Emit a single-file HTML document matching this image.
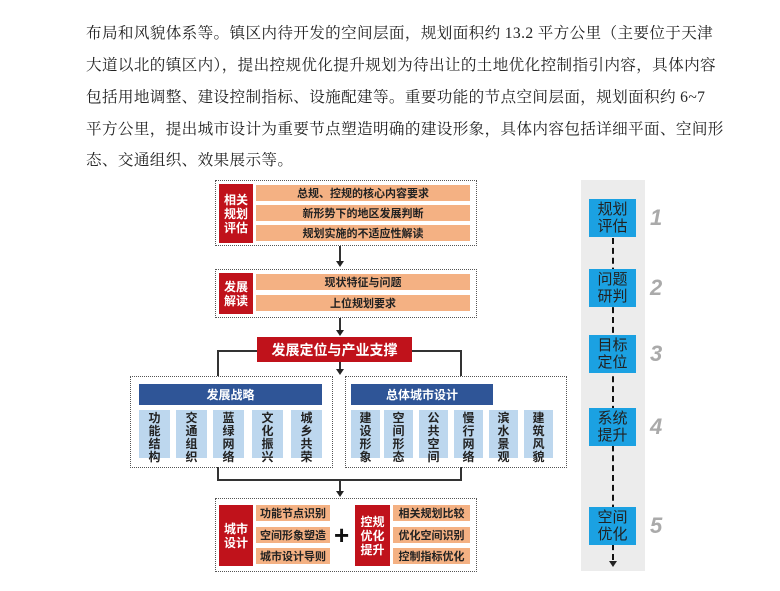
<!DOCTYPE html>
<html><head><meta charset="utf-8"><style>
body{margin:0;width:780px;height:591px;background:#fff;position:relative;overflow:hidden;font-family:"Liberation Sans","Noto Sans CJK SC",sans-serif}
.a{position:absolute;box-sizing:border-box}
.p{position:absolute;left:86px;font-family:"Liberation Serif","Noto Serif CJK SC",serif;font-size:15.6px;color:#222;white-space:nowrap;letter-spacing:0.35px}
.dot{border:1.5px dotted #555}
.red{background:#c0121b;color:#fff;font-weight:bold;display:flex;align-items:center;justify-content:center;text-align:center;line-height:14px;font-size:12px}
.or{background:#f4b183;color:#222;font-weight:bold;font-size:11px;display:flex;align-items:center;justify-content:center}
.bh{background:#2f5597;color:#fff;font-weight:bold;font-size:12px;display:flex;align-items:center;justify-content:center}
.lb{background:#bdd7ee;color:#222;font-weight:bold;font-size:12px;line-height:13px;text-align:center;padding-top:2px;width:31px;height:48px;top:410px}
.ln{background:#333}
.ah{width:0;height:0;border-left:4px solid transparent;border-right:4px solid transparent;border-top:6px solid #222}
.sb{background:#1ba1e2;color:#222;font-size:15px;line-height:17px;text-align:center;display:flex;align-items:center;justify-content:center;left:589px;width:47px;height:38px}
.n{left:650px;color:#aaa;font-size:22px;font-style:italic;font-weight:bold}
</style></head><body>
<div class="p" style="top:21px">布局和风貌体系等。镇区内待开发的空间层面，规划面积约 13.2 平方公里（主要位于天津</div>
<div class="p" style="top:53px">大道以北的镇区内），提出控规优化提升规划为待出让的土地优化控制指引内容，具体内容</div>
<div class="p" style="top:85px">包括用地调整、建设控制指标、设施配建等。重要功能的节点空间层面，规划面积约 6~7</div>
<div class="p" style="top:117px">平方公里，提出城市设计为重要节点塑造明确的建设形象，具体内容包括详细平面、空间形</div>
<div class="p" style="top:148px">态、交通组织、效果展示等。</div>

<div class="a dot" style="left:215px;top:180px;width:262px;height:66px"></div>
<div class="a red" style="left:219px;top:184px;width:34px;height:59px">相关<br>规划<br>评估</div>
<div class="a or" style="left:256px;top:185px;width:214px;height:16px">总规、控规的核心内容要求</div>
<div class="a or" style="left:256px;top:205px;width:214px;height:16px">新形势下的地区发展判断</div>
<div class="a or" style="left:256px;top:225px;width:214px;height:16px">规划实施的不适应性解读</div>
<div class="a ln" style="left:339px;top:246px;width:2px;height:16px"></div>
<div class="a ah" style="left:336px;top:261px"></div>
<div class="a dot" style="left:215px;top:269px;width:262px;height:49px"></div>
<div class="a red" style="left:219px;top:273px;width:34px;height:41px">发展<br>解读</div>
<div class="a or" style="left:256px;top:274px;width:214px;height:16px">现状特征与问题</div>
<div class="a or" style="left:256px;top:295px;width:214px;height:16px">上位规划要求</div>
<div class="a ln" style="left:339px;top:318px;width:2px;height:13px"></div>
<div class="a ah" style="left:336px;top:330px"></div>
<div class="a red" style="left:257px;top:337px;width:155px;height:25px;font-size:14px">发展定位与产业支撑</div>
<div class="a ln" style="left:217px;top:350px;width:40px;height:2px"></div>
<div class="a ln" style="left:412px;top:350px;width:50px;height:2px"></div>
<div class="a ln" style="left:217px;top:350px;width:2px;height:26px"></div>
<div class="a ln" style="left:460px;top:350px;width:2px;height:26px"></div>
<div class="a ln" style="left:339px;top:362px;width:2px;height:8px"></div>
<div class="a ah" style="left:336px;top:369px"></div>
<div class="a dot" style="left:130px;top:376px;width:203px;height:92px"></div>
<div class="a bh" style="left:139px;top:384px;width:183px;height:21px">发展战略</div>
<div class="a lb" style="left:139px">功<br>能<br>结<br>构</div>
<div class="a lb" style="left:176px">交<br>通<br>组<br>织</div>
<div class="a lb" style="left:213px">蓝<br>绿<br>网<br>络</div>
<div class="a lb" style="left:252px">文<br>化<br>振<br>兴</div>
<div class="a lb" style="left:291px">城<br>乡<br>共<br>荣</div>
<div class="a dot" style="left:345px;top:376px;width:222px;height:92px"></div>
<div class="a bh" style="left:351px;top:384px;width:142px;height:21px">总体城市设计</div>
<div class="a lb" style="left:351px;width:29px">建<br>设<br>形<br>象</div>
<div class="a lb" style="left:384px;width:29px">空<br>间<br>形<br>态</div>
<div class="a lb" style="left:419px;width:29px">公<br>共<br>空<br>间</div>
<div class="a lb" style="left:454px;width:29px">慢<br>行<br>网<br>络</div>
<div class="a lb" style="left:489px;width:29px">滨<br>水<br>景<br>观</div>
<div class="a lb" style="left:524px;width:29px">建<br>筑<br>风<br>貌</div>
<div class="a ln" style="left:217px;top:467px;width:2px;height:13px"></div>
<div class="a ln" style="left:460px;top:467px;width:2px;height:13px"></div>
<div class="a ln" style="left:217px;top:479px;width:245px;height:2px"></div>
<div class="a ln" style="left:339px;top:480px;width:2px;height:12px"></div>
<div class="a ah" style="left:336px;top:491px"></div>
<div class="a dot" style="left:215px;top:498px;width:262px;height:74px"></div>
<div class="a red" style="left:219px;top:505px;width:34px;height:61px">城市<br>设计</div>
<div class="a or" style="left:256px;top:505px;width:74px;height:16px">功能节点识别</div>
<div class="a or" style="left:256px;top:527px;width:74px;height:16px">空间形象塑造</div>
<div class="a or" style="left:256px;top:548px;width:74px;height:16px">城市设计导则</div>
<div class="a" style="left:334px;top:520px;font-size:26px;font-weight:bold;color:#111">+</div>
<div class="a red" style="left:355px;top:505px;width:35px;height:61px">控规<br>优化<br>提升</div>
<div class="a or" style="left:393px;top:505px;width:77px;height:16px">相关规划比较</div>
<div class="a or" style="left:393px;top:527px;width:77px;height:16px">优化空间识别</div>
<div class="a or" style="left:393px;top:548px;width:77px;height:16px">控制指标优化</div>
<div class="a" style="left:581px;top:180px;width:64px;height:391px;background:#ececec"></div>
<div class="a" style="left:612px;top:238px;width:0;height:322px;border-left:2.5px dashed #111"></div>
<div class="a ah" style="left:609px;top:561px"></div>
<div class="a sb" style="top:199px">规划<br>评估</div>
<div class="a sb" style="top:269px">问题<br>研判</div>
<div class="a sb" style="top:335px">目标<br>定位</div>
<div class="a sb" style="top:408px">系统<br>提升</div>
<div class="a sb" style="top:507px">空间<br>优化</div>
<div class="a n" style="top:205px">1</div>
<div class="a n" style="top:275px">2</div>
<div class="a n" style="top:341px">3</div>
<div class="a n" style="top:414px">4</div>
<div class="a n" style="top:513px">5</div>
</body></html>
